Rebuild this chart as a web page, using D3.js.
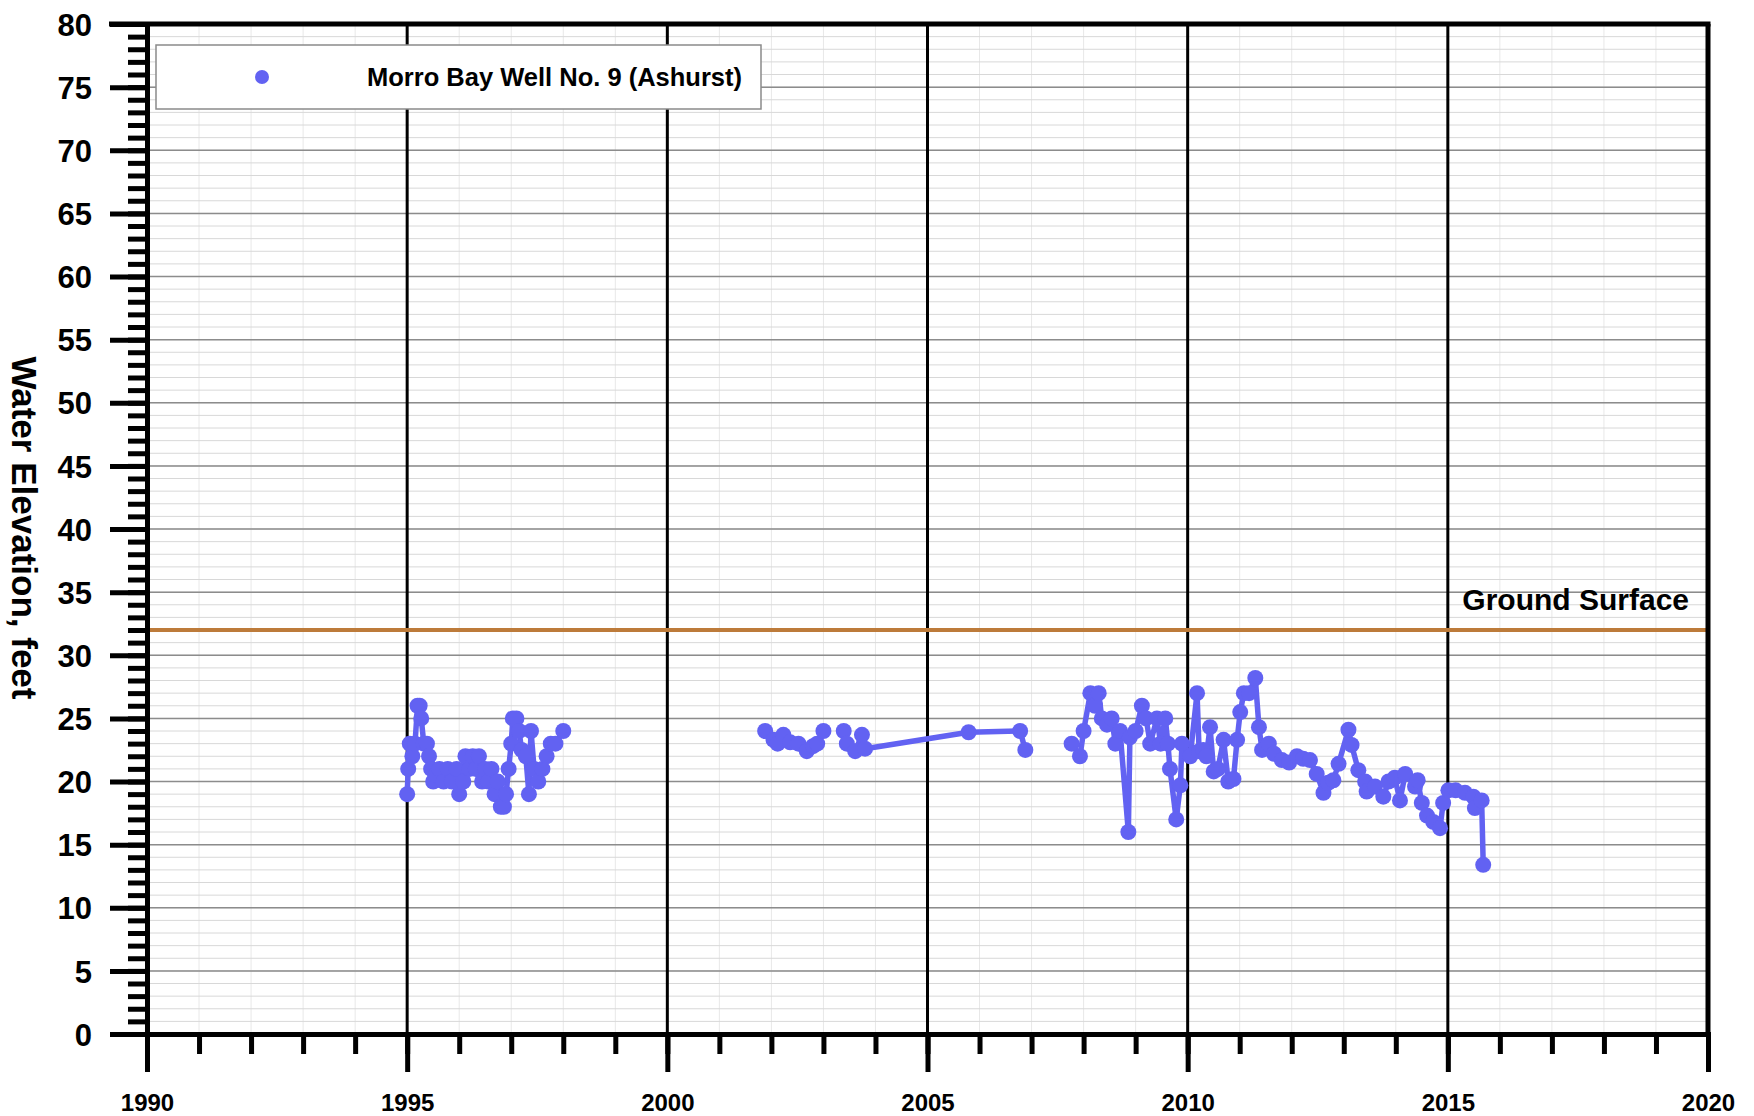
<!DOCTYPE html>
<html>
<head>
<meta charset="utf-8">
<script src="https://cdn.jsdelivr.net/npm/d3@7"></script>
<style>
  body { margin: 0; background: #fff; }
  text { font-family: "Liberation Sans", Arial, sans-serif; font-weight: bold; fill: #000; }
</style>
</head>
<body>
<div id="chart"></div>
<script>
// sample dates (decimal years); null marks a break in the record
const sampleYears = [
  1995.00, 1995.02, 1995.05, 1995.10, 1995.15, 1995.20, 1995.24, 1995.27, 1995.32, 1995.38,
  1995.42, 1995.46, 1995.50, 1995.55, 1995.62, 1995.70, 1995.78, 1995.86, 1995.95, 1996.00,
  1996.08, 1996.12, 1996.20, 1996.26, 1996.32, 1996.38, 1996.44, 1996.50, 1996.56, 1996.62,
  1996.68, 1996.74, 1996.80, 1996.86, 1996.90, 1996.95, 1997.00, 1997.03, 1997.10, 1997.15,
  1997.20, 1997.28, 1997.34, 1997.38, 1997.44, 1997.52, 1997.60, 1997.68, 1997.76, 1997.85,
  1998.00, null,
  2001.88, 2002.04, 2002.12, 2002.23, 2002.36, 2002.52, 2002.68, 2002.80, 2002.88, 2003.00, null,
  2003.39, 2003.45, 2003.61, 2003.74, 2003.80, 2005.79, 2006.78, 2006.88, null,
  2007.77, 2007.93, 2008.00, 2008.13, 2008.22, 2008.29, 2008.35, 2008.45, 2008.54, 2008.61,
  2008.70, 2008.86, 2008.89, 2009.00, 2009.12, 2009.20, 2009.28, 2009.41, 2009.48, 2009.57,
  2009.62, 2009.66, 2009.78, 2009.86, 2009.89, 2010.05, 2010.18, 2010.22, 2010.30, 2010.36,
  2010.43, 2010.50, 2010.58, 2010.69, 2010.78, 2010.88, 2010.95, 2011.01, 2011.08, 2011.18,
  2011.30, 2011.37, 2011.43, 2011.56, 2011.66, 2011.81, 2011.95, 2012.10, 2012.22, 2012.35,
  2012.48, 2012.61, 2012.70, 2012.80, 2012.90, 2013.09, 2013.15, 2013.28, 2013.41, 2013.44,
  2013.60, 2013.76, 2013.86, 2013.98, 2014.08, 2014.18, 2014.37, 2014.42, 2014.50, 2014.60,
  2014.72, 2014.85, 2014.91, 2015.01, 2015.15, 2015.33, 2015.49, 2015.52, 2015.65, 2015.68
];
// water elevation, feet
const waterElevation = [
  19, 21, 23, 22, 23, 26, 26, 25, 23, 23,
  22, 21, 20, 20.5, 21, 20, 21, 20, 21, 19,
  20, 22, 21, 22, 21, 22, 20, 21, 20, 21,
  19, 20, 18, 18, 19, 21, 23, 25, 25, 24,
  22.5, 22, 19, 24, 21, 20, 21, 22, 23, 23,
  24, null,
  24, 23.3, 23, 23.7, 23.1, 23, 22.4, 22.8, 23, 24, null,
  24, 23, 22.4, 23.7, 22.6, 23.9, 24, 22.5, null,
  23, 22, 24, 27, 26, 27, 25, 24.5, 25, 23,
  24, 16, 23.5, 24, 26, 25, 23, 25, 23, 25,
  23, 21, 17, 19.7, 23, 22, 27, 22.4, 22.5, 22,
  24.3, 20.8, 21, 23.3, 20, 20.2, 23.3, 25.5, 27, 27,
  28.2, 24.3, 22.5, 23, 22.2, 21.7, 21.5, 22, 21.8, 21.7,
  20.6, 19.1, 19.9, 20.1, 21.4, 24.1, 22.9, 20.9, 20, 19.2,
  19.6, 18.8, 20, 20.3, 18.5, 20.6, 19.6, 20.1, 18.3, 17.3,
  16.8, 16.3, 18.3, 19.3, 19.3, 19.1, 18.8, 17.9, 18.5, 13.4
];
const seriesName = "Morro Bay Well No. 9 (Ashurst)";
const groundSurface = 32;
const yearTicks = [1990, 1995, 2000, 2005, 2010, 2015, 2020];
const elevationTicks = [0, 5, 10, 15, 20, 25, 30, 35, 40, 45, 50, 55, 60, 65, 70, 75, 80];

const margin = {top: 24, right: 46, bottom: 82, left: 147},
    width = 1754 - margin.left - margin.right,
    height = 1116 - margin.top - margin.bottom;

const blue = "#6262f2";

const svg = d3.select("#chart")
  .append("svg")
    .attr("width", 1754)
    .attr("height", 1116)
  .append("g")
    .attr("transform", `translate(${margin.left},${margin.top})`);

const x = d3.scaleLinear().domain([1990, 2020]).range([0, width]);
const y = d3.scaleLinear().domain([0, 80]).range([height, 0]);

// faint minor grid
svg.append("g").selectAll("line")
  .data(x.ticks(30))
  .join("line")
    .attr("x1", d => x(d)).attr("x2", d => x(d))
    .attr("y1", 0).attr("y2", height)
    .attr("stroke", "#e8e8e8").attr("stroke-width", 1);
svg.append("g").selectAll("line")
  .data(y.ticks(80))
  .join("line")
    .attr("x1", 0).attr("x2", width)
    .attr("y1", d => y(d)).attr("y2", d => y(d))
    .attr("stroke", "#d8d8d8").attr("stroke-width", 1);

// major grid
svg.append("g").selectAll("line")
  .data(elevationTicks)
  .join("line")
    .attr("x1", 0).attr("x2", width)
    .attr("y1", d => y(d)).attr("y2", d => y(d))
    .attr("stroke", "#8c8c8c").attr("stroke-width", 1.5);
svg.append("g").selectAll("line")
  .data(yearTicks.slice(1, -1))
  .join("line")
    .attr("x1", d => x(d)).attr("x2", d => x(d))
    .attr("y1", 0).attr("y2", height)
    .attr("stroke", "#000").attr("stroke-width", 3);

// ground surface
svg.append("line")
  .attr("x1", 0).attr("x2", width)
  .attr("y1", y(groundSurface)).attr("y2", y(groundSurface))
  .attr("stroke", "#bd7b3a").attr("stroke-width", 4);
svg.append("text")
  .attr("x", width - 19)
  .attr("y", y(groundSurface) - 20)
  .attr("text-anchor", "end")
  .style("font-size", "30px")
  .text("Ground Surface");

// axes
const styleAxis = g => {
  g.select(".domain").attr("stroke", "#000").attr("stroke-width", 5);
  g.selectAll(".tick line").attr("stroke", "#000").attr("stroke-width", 5);
};

svg.append("g")
  .call(d3.axisLeft(y).ticks(80).tickSize(19).tickFormat(""))
  .call(styleAxis);
svg.append("g")
  .call(d3.axisLeft(y).tickValues(elevationTicks).tickSize(37).tickPadding(18))
  .call(styleAxis)
  .call(g => g.selectAll("text").style("font-size", "31px").attr("dy", "0.36em"));

svg.append("g")
  .attr("transform", `translate(0,${height})`)
  .call(d3.axisBottom(x).ticks(30).tickSize(20).tickFormat(""))
  .call(styleAxis);
svg.append("g")
  .attr("transform", `translate(0,${height})`)
  .call(d3.axisBottom(x).tickValues(yearTicks).tickSize(38).tickPadding(22).tickFormat(d3.format("d")))
  .call(styleAxis)
  .call(g => g.selectAll("text")
    .style("font-family", '"Liberation Sans Narrow", "Arial Narrow", "Liberation Sans", sans-serif')
    .style("font-size", "24px"));

// top and right frame
svg.append("line").attr("x1", -38).attr("x2", width + 2.5).attr("y1", 0).attr("y2", 0)
  .attr("stroke", "#000").attr("stroke-width", 5);
svg.append("line").attr("x1", width).attr("x2", width).attr("y1", 0).attr("y2", height)
  .attr("stroke", "#000").attr("stroke-width", 5);

// series
const points = sampleYears.map((t, i) => ({t: t, v: waterElevation[i]}));
const line = d3.line()
  .defined(d => d.t != null && d.v != null)
  .x(d => x(d.t))
  .y(d => y(d.v));

svg.append("path")
  .datum(points)
  .attr("fill", "none")
  .attr("stroke", blue)
  .attr("stroke-width", 5.5)
  .attr("stroke-linejoin", "round")
  .attr("d", line);

svg.append("g").selectAll("circle")
  .data(points.filter(d => d.t != null))
  .join("circle")
    .attr("cx", d => x(d.t))
    .attr("cy", d => y(d.v))
    .attr("r", 8)
    .attr("fill", blue);

// legend
const legend = svg.append("g").attr("transform", "translate(9,21)");
legend.append("rect")
  .attr("width", 605).attr("height", 64)
  .attr("fill", "#fff").attr("stroke", "#8a8a8a").attr("stroke-width", 1.5);
legend.append("circle")
  .attr("cx", 106).attr("cy", 32).attr("r", 7).attr("fill", blue);
legend.append("text")
  .attr("x", 211).attr("y", 32).attr("dy", "0.36em")
  .style("font-size", "25.5px")
  .text(seriesName);

// y axis title
d3.select("svg").append("text")
  .attr("transform", "translate(25,528) rotate(90)")
  .attr("text-anchor", "middle")
  .attr("dy", "0.36em")
  .style("font-size", "35px")
  .text("Water Elevation, feet");
</script>
</body>
</html>
